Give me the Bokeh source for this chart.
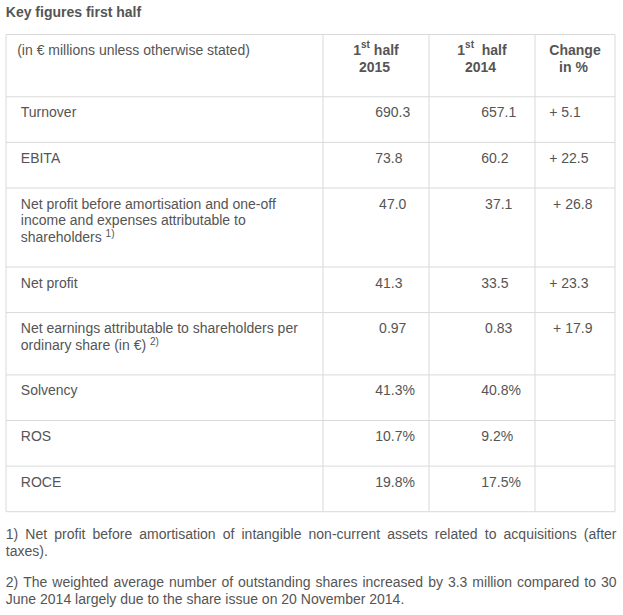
from bokeh.plotting import figure
from bokeh.models import Range1d, ColumnDataSource
from bokeh.core.properties import value
from bokeh.embed import file_html
from bokeh.resources import INLINE

# ---------------- data ----------------
title = "Key figures first half"
units_note = "(in € millions unless otherwise stated)"
period_heads = ["1st half", "1st  half"]
period_years = ["2015", "2014"]
change_head = ["Change", "in %"]

row_labels = [
    ["Turnover"],
    ["EBITA"],
    ["Net profit before amortisation and one-off",
     "income and expenses attributable to",
     "shareholders"],
    ["Net profit"],
    ["Net earnings attributable to shareholders per",
     "ordinary share (in €)"],
    ["Solvency"],
    ["ROS"],
    ["ROCE"],
]
label_notes = ["", "", "1)", "", "2)", "", "", ""]
h1_2015 = [690.3, 73.8, 47.0, 41.3, 0.97, 41.3, 10.7, 19.8]
h1_2014 = [657.1, 60.2, 37.1, 33.5, 0.83, 40.8, 9.2, 17.5]
change_pct = [5.1, 22.5, 26.8, 23.3, 17.9, None, None, None]
decimals = [1, 1, 1, 1, 2, 1, 1, 1]
units = ["", "", "", "", "", "%", "%", "%"]

footnotes = [
    ["1) Net profit before amortisation of intangible non-current assets related to acquisitions (after",
     "taxes)."],
    ["2) The weighted average number of outstanding shares increased by 3.3 million compared to 30",
     "June 2014 largely due to the share issue on 20 November 2014."],
]

# ---------------- layout ----------------
FONT = value("Liberation Sans")
COLOR = "#555555"
GRID = "#d9d9d9"
W, H = 623, 615
X0, X1 = 0.0, 623.0
Y0, Y1 = 0.0, 615.0
SX = W / (X1 - X0)

HELV = {' ': 278, '!': 278, '%': 889, '(': 333, ')': 333, '+': 584, ',': 278, '-': 333,
        '.': 278, '/': 278, ':': 278, '€': 556,
        'A': 667, 'B': 667, 'C': 722, 'D': 722, 'E': 667, 'F': 611, 'G': 778, 'H': 722,
        'I': 278, 'J': 500, 'K': 667, 'L': 556, 'M': 833, 'N': 722, 'O': 778, 'P': 667,
        'Q': 778, 'R': 722, 'S': 667, 'T': 611, 'U': 722, 'V': 667, 'W': 944, 'X': 667,
        'Y': 667, 'Z': 611,
        'a': 556, 'b': 556, 'c': 500, 'd': 556, 'e': 556, 'f': 278, 'g': 556, 'h': 556,
        'i': 222, 'j': 222, 'k': 500, 'l': 222, 'm': 833, 'n': 556, 'o': 556, 'p': 556,
        'q': 556, 'r': 333, 's': 500, 't': 278, 'u': 556, 'v': 500, 'w': 722, 'x': 500,
        'y': 500, 'z': 500}
HELVB = {' ': 278, '%': 889, '(': 333, ')': 333, 'C': 722, 'K': 722,
         'a': 556, 'b': 611, 'c': 556, 'd': 611, 'e': 556, 'f': 333, 'g': 611, 'h': 611,
         'i': 278, 'l': 278, 'n': 611, 'o': 611, 'r': 389, 's': 556, 't': 333, 'u': 611,
         'y': 556}


def tw(s, size, bold=False):
    t = HELVB if bold else HELV
    return sum(t.get(c, 556) for c in s) * size / 1000.0 / SX


texts = {}


def add(x, y, s, size=14, bold=False, align="left"):
    key = (size, bold, align)
    d = texts.setdefault(key, {"x": [], "y": [], "t": []})
    d["x"].append(x)
    d["y"].append(y)
    d["t"].append(s)


cols = [5.5, 322.5, 428.5, 534.5, 614.5]
TOP = 34.0
LH = 16.7
PAD_TOP = 15.5


def row_h(n):
    return 28.9 + LH * n


p = figure(width=W, height=H, x_range=Range1d(X0, X1), y_range=Range1d(Y1, Y0),
           output_backend="svg", toolbar_location=None, min_border=0)
p.axis.visible = False
p.grid.visible = False
p.outline_line_color = None
p.background_fill_color = "white"
p.border_fill_color = "white"

# title
add(5.3, 11, title, 14, True)

# header row
bounds = [TOP]
y_first = TOP + PAD_TOP
add(16.7, y_first, units_note)
for i, (head, year) in enumerate(zip(period_heads, period_years)):
    cx = (cols[i + 1] + cols[i + 2]) / 2
    num, sup, rest = head[0], head[1:3], head[3:]
    nsp = len(rest) - len(rest.lstrip(" "))
    word = rest.strip()
    w1 = tw(num, 14, True)
    w2 = tw(sup, 10, True)
    w3 = tw(" " * nsp, 14, True)
    w4 = tw(word, 14, True)
    x = cx - (w1 + w2 + w3 + w4) / 2
    add(x, y_first, num, 14, True)
    add(x + w1, y_first - 5.5, sup, 10, True)
    add(x + w1 + w2 + w3, y_first, word, 14, True)
    add(cx - 1.5, y_first + LH, year, 14, True, "center")
cx4 = (cols[3] + cols[4]) / 2
add(cx4, y_first, change_head[0], 14, True, "center")
add(cx4 - 1.5, y_first + LH, change_head[1], 14, True, "center")
bounds.append(TOP + row_h(2))

# body rows
for i, lines in enumerate(row_labels):
    top = bounds[-1]
    y0 = top + PAD_TOP
    for k, ln in enumerate(lines):
        add(20.3, y0 + LH * k, ln)
    if label_notes[i]:
        yl = y0 + LH * (len(lines) - 1)
        add(20.3 + tw(lines[-1] + " ", 14), yl - 3.5, label_notes[i], 10)
    pad = 3.9 if i in (2, 4) else 0.0
    d = decimals[i]
    add(cols[1] + 52.2 + pad, y0, f"{h1_2015[i]:.{d}f}{units[i]}")
    add(cols[2] + 52.2 + pad, y0, f"{h1_2014[i]:.{d}f}{units[i]}")
    if change_pct[i] is not None:
        add(cols[3] + 14.2 + pad, y0, f"+ {change_pct[i]:.1f}")
    bounds.append(top + row_h(len(lines)))

# grid lines
hx0 = [cols[0]] * len(bounds)
hx1 = [cols[-1]] * len(bounds)
p.segment(x0=hx0, y0=bounds, x1=hx1, y1=bounds, line_color=GRID, line_width=1)
p.segment(x0=cols, y0=[bounds[0]] * len(cols), x1=cols, y1=[bounds[-1]] * len(cols),
          line_color=GRID, line_width=1)

# footnotes
FX0, FX1 = 5.3, 616.0
y = bounds[-1] + 22.3
for para in footnotes:
    for j, ln in enumerate(para):
        if j < len(para) - 1:
            words = ln.split(" ")
            ws = [tw(w, 14) for w in words]
            gap = (FX1 - FX0 - sum(ws)) / (len(words) - 1)
            x = FX0
            for w, wd in zip(words, ws):
                add(x, y, w)
                x += wd + gap
        else:
            add(FX0, y, ln)
        y += 17.4
    y += 30.3 - 17.4

for (size, bold, align), d in texts.items():
    src = ColumnDataSource(dict(x=d["x"], y=d["y"], t=d["t"]))
    p.text(x="x", y="y", text="t", source=src, text_font=FONT,
           text_font_size=f"{size}px", text_font_style="bold" if bold else "normal",
           text_color=COLOR, text_align=align, text_baseline="middle")

open("out.html", "w").write(file_html(p, INLINE))
